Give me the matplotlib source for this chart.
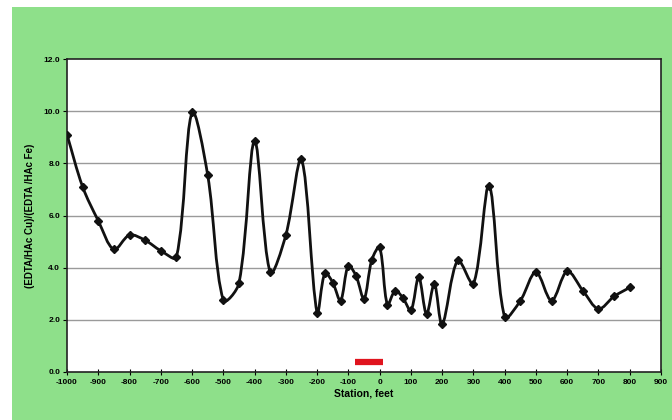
import matplotlib
matplotlib.use("Agg")
import matplotlib.pyplot as plt
from matplotlib.path import Path
from matplotlib.patches import PathPatch
import numpy as np

plt.rcParams['font.family'] = ['Liberation Sans', 'DejaVu Sans']

stations = [-1000, -950, -900, -850, -800, -750, -700, -650, -600, -550, -500, -450,
            -400, -350, -300, -250, -200,
            -175, -150, -125, -100, -75, -50, -25, 0, 25, 50, 75, 100, 125, 150, 175, 200,
            250, 300, 350, 400, 450, 500, 550, 600, 650, 700, 750, 800]
ratios = [9.1, 7.1, 5.8, 4.7, 5.25, 5.05, 4.65, 4.4, 9.95, 7.55, 2.75, 3.4,
          8.85, 3.82, 5.25, 8.15, 2.26,
          3.8, 3.43, 2.74, 4.08, 3.67, 2.81, 4.3, 4.78, 2.58, 3.12, 2.83, 2.36, 3.64, 2.22, 3.38, 1.83,
          4.28, 3.38, 7.15, 2.1, 2.73, 3.83, 2.74, 3.86, 3.12, 2.42, 2.9, 3.24]

xticks = list(range(-1000, 901, 100))
yticks = [0, 2, 4, 6, 8, 10, 12]
marker_span = [-80, 10]
marker_level = 0.38

GREEN = '#8EE08A'

fig = plt.figure(figsize=(6.72, 4.2), dpi=100)
fig.patch.set_facecolor(GREEN)
# white margins of the scanned page
fig.add_artist(plt.Rectangle((0, 0), 12/672, 1, transform=fig.transFigure,
                             facecolor='white', edgecolor='none', zorder=-5))
fig.add_artist(plt.Rectangle((0, 1 - 7/420), 1, 7/420, transform=fig.transFigure,
                             facecolor='white', edgecolor='none', zorder=-5))

ax = fig.add_axes([67/672, 1 - 372/420, 594/672, 313/420])
ax.set_facecolor('white')
ax.set_xlim(-1000, 900)
ax.set_ylim(0, 12)

for y in yticks[1:-1]:
    ax.axhline(y, color='#9a9a9a', lw=1.0, zorder=1)

# smoothed line: Bezier segments with distance-weighted tangents computed in display space
disp = ax.transData.transform(np.column_stack([stations, ratios]).astype(float))
n = len(disp)
verts = [disp[0]]
codes = [Path.MOVETO]
def tangent(i):
    a = disp[max(i - 1, 0)]
    b = disp[min(i + 1, n - 1)]
    return b - a
seglen = [np.hypot(*(disp[i + 1] - disp[i])) for i in range(n - 1)]
k = 1.0 / 3.0
for i in range(n - 1):
    p1, p2 = disp[i], disp[i + 1]
    L = seglen[i]
    Lprev = seglen[i - 1] if i > 0 else 0.0
    Lnext = seglen[i + 1] if i + 1 < n - 1 else 0.0
    t1 = tangent(i)
    t2 = tangent(i + 1)
    c1 = p1 + t1 * k * L / (L + Lprev)
    c2 = p2 - t2 * k * L / (L + Lnext)
    verts += [c1, c2, p2]
    codes += [Path.CURVE4] * 3
data_verts = ax.transData.inverted().transform(np.array(verts))
ax.add_patch(PathPatch(Path(data_verts, codes), facecolor='none', edgecolor='#111111',
                       lw=2.0, zorder=3, capstyle='round', joinstyle='round'))
ax.plot(stations, ratios, linestyle='none', marker='D', markersize=4,
        color='#111111', zorder=4)

ax.plot(marker_span, [marker_level, marker_level], color='#e0141e', lw=4.5,
        solid_capstyle='butt', zorder=3)

for s in ax.spines.values():
    s.set_color('#222222')
    s.set_linewidth(1.2)

ax.set_xticks(xticks)
ax.set_yticks(yticks)
ax.set_xticklabels([str(v) for v in xticks])
ax.set_yticklabels([f"{v:.1f}" for v in yticks])
ax.tick_params(axis='x', direction='inout', length=4, width=0.8, labelsize=6, pad=3)
ax.tick_params(axis='y', direction='out', length=3, width=0.8, labelsize=6, pad=2)
for lab in ax.get_xticklabels() + ax.get_yticklabels():
    lab.set_fontweight('bold')

ax.set_xlabel('Station, feet', fontsize=7.5, fontweight='bold', labelpad=2)
ax.set_ylabel('(EDTA/HAc Cu)/(EDTA /HAc Fe)', fontsize=7, fontweight='bold', labelpad=6)

fig.savefig('out.png', dpi=100, facecolor=fig.get_facecolor())
